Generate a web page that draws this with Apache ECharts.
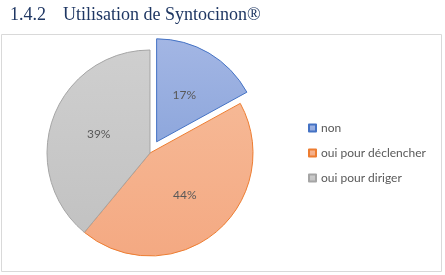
<!DOCTYPE html>
<html lang="fr">
<head>
    <meta charset="UTF-8">
    <script src="https://cdn.jsdelivr.net/npm/echarts@6/dist/echarts.min.js"></script>
    <style>
        html, body { margin: 0; padding: 0; background: #fff; }
    </style>
</head>
<body>
<div id="main" style="width: 445px;height: 275px;"></div>
<script>
    // données du graphique
    var categories = ['non', 'oui pour déclencher', 'oui pour diriger'];
    var values = [17, 44, 39];
    var fills = [['#a3b6e4', '#8ea7dc'], ['#f6b895', '#f4a982'], ['#cfcfcf', '#c2c2c2']];
    var borders = ['#4472c4', '#ed7d31', '#a5a5a5'];

    var myChart = echarts.init(document.getElementById('main'));

    var pieData = categories.map(function (name, i) {
        return {
            name: name,
            value: values[i],
            selected: i === 0,
            itemStyle: {
                color: new echarts.graphic.LinearGradient(0, 0, 0, 1, [
                    {offset: 0, color: fills[i][0]},
                    {offset: 1, color: fills[i][1]}
                ]),
                borderColor: borders[i],
                borderWidth: 1
            }
        };
    });

    var option = {
        animation: false,
        graphic: [
            {
                type: 'rect',
                shape: {x: 1.5, y: 34.5, width: 440, height: 237},
                style: {fill: 'none', stroke: '#d9d9d9', lineWidth: 1}
            },
            {
                type: 'text', left: 10, top: 6,
                style: {text: '1.4.2', font: '18px "Liberation Serif"', fill: '#1f3763'}
            },
            {
                type: 'text', left: 63, top: 6,
                style: {text: 'Utilisation de Syntocinon®', font: '18px "Liberation Serif"', fill: '#1f3763'}
            }
        ],
        legend: {
            orient: 'vertical',
            left: 303,
            top: 117,
            itemWidth: 7,
            itemHeight: 7,
            itemGap: 13,
            icon: 'rect',
            textStyle: {color: '#595959', fontSize: 12, fontFamily: 'Lato'},
            data: categories
        },
        series: [{
            type: 'pie',
            center: [150, 153],
            radius: 103,
            startAngle: 90,
            clockwise: true,
            selectedMode: 'single',
            selectedOffset: 13,
            label: {
                position: 'inside',
                formatter: '{d}%',
                color: '#595959',
                fontSize: 12,
                fontFamily: 'Lato'
            },
            labelLine: {show: false},
            emphasis: {scale: false},
            data: pieData
        }]
    };
    myChart.setOption(option);
</script>
</body>
</html>
